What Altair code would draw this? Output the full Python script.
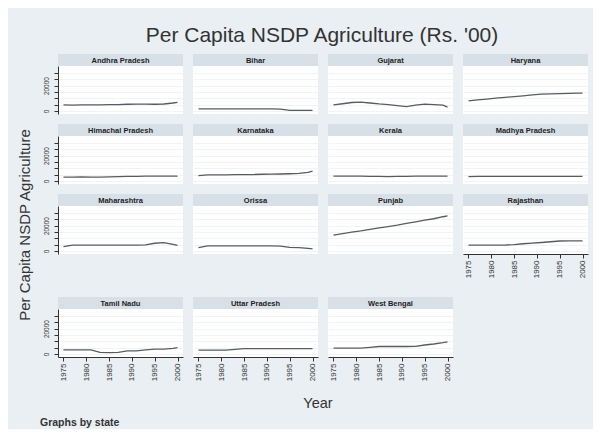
import altair as alt
import pandas as pd

# ---------------- data ----------------
years = [1975, 1977, 1979, 1981, 1983, 1985, 1987, 1989, 1991, 1993, 1995, 1997, 1999, 2000]

states = [
    "Andhra Pradesh", "Bihar", "Gujarat", "Haryana",
    "Himachal Pradesh", "Karnataka", "Kerala", "Madhya Pradesh",
    "Maharashtra", "Orissa", "Punjab", "Rajasthan",
    "Tamil Nadu", "Uttar Pradesh", "West Bengal",
]

andhra      = [4700, 4600, 4800, 4700, 4800, 4900, 5000, 5200, 5300, 5300, 5200, 5400, 6200, 6700]
bihar       = [1600, 1500, 1600, 1600, 1500, 1600, 1500, 1500, 1500, 1300, 400, 300, 300, 300]
gujarat     = [4700, 5600, 6600, 6900, 6200, 5500, 5000, 4200, 3400, 4500, 5300, 5000, 4500, 2900]
haryana     = [7900, 8700, 9300, 10000, 10600, 11300, 11900, 12600, 13200, 13500, 13700, 13900, 14000, 14000]
himachal    = [3000, 3000, 3100, 3000, 3000, 3100, 3300, 3500, 3600, 3700, 3700, 3800, 3800, 3800]
karnataka   = [4200, 4700, 4800, 4800, 4900, 4900, 5000, 5200, 5300, 5400, 5600, 5900, 6700, 7700]
kerala      = [3800, 3800, 3700, 3700, 3600, 3500, 3400, 3500, 3600, 3700, 3700, 3800, 3800, 3700]
mp          = [3400, 3500, 3500, 3500, 3500, 3600, 3500, 3500, 3600, 3600, 3500, 3600, 3600, 3500]
maharashtra = [3400, 4500, 4500, 4500, 4600, 4600, 4600, 4500, 4600, 4800, 6000, 6500, 5200, 4300]
orissa      = [2600, 4000, 4000, 4000, 4000, 4000, 4000, 4000, 4000, 3800, 2800, 2600, 2000, 1600]
punjab      = [12400, 13600, 14800, 15800, 17000, 18200, 19200, 20300, 21800, 23000, 24300, 25400, 27000, 27600]
rajasthan   = [4500, 4500, 4500, 4600, 4600, 5000, 5600, 6100, 6600, 7200, 7800, 7900, 7900, 7900]
tamilnadu   = [3200, 3200, 3200, 3200, 1100, 1000, 1100, 2400, 2400, 3200, 3700, 3700, 4300, 5000]
up          = [2900, 2900, 2900, 2900, 3500, 4100, 4200, 4200, 4200, 4200, 4200, 4200, 4200, 4200]
westbengal  = [4500, 4500, 4500, 4600, 5200, 5800, 5800, 5800, 5800, 5900, 7000, 7800, 8800, 9500]

series = [andhra, bihar, gujarat, haryana, himachal, karnataka, kerala, mp,
          maharashtra, orissa, punjab, rajasthan, tamilnadu, up, westbengal]

y_ticks = [0, 5000, 10000, 15000, 20000, 25000, 30000]
y_labelled = [0, 20000]
x_ticks = [1975, 1980, 1985, 1990, 1995, 2000]

title_text = "Per Capita NSDP Agriculture (Rs. '00)"
y_title = "Per Capita NSDP Agriculture"
x_title = "Year"
note = "Graphs by state"

# ---------------- styling ----------------
BG = "#e9eff2"
STRIP = "#d6e0e6"
LINE = "#565c61"
GRID = "#edf1f3"
AX = "#333333"
FONT = "Liberation Sans"
PW, PH, SH = 125, 48, 12

rows = []
for s, v in zip(states, series):
    for yr, val in zip(years, v):
        rows.append({"state": s, "year": yr, "value": val})
df = pd.DataFrame(rows)

xscale = alt.Scale(domain=[1973.8, 2001.2], nice=False, zero=False)
yscale = alt.Scale(domain=[-2500, 35500], nice=False, zero=False)

label_expr = " || ".join(f"datum.value == {v}" for v in y_labelled)


def panel(state, show_y, show_x):
    if show_y:
        yaxis = alt.Axis(values=y_ticks, grid=True, gridColor=GRID, gridWidth=0.8,
                         labelExpr=f"({label_expr}) ? datum.label : ''",
                         format="d", labelAngle=270, labelFontSize=6.5, labelFont=FONT,
                         labelColor=AX, tickSize=4, tickColor=AX, domainColor=AX,
                         labelPadding=5, title=None)
    else:
        yaxis = alt.Axis(values=y_ticks, grid=True, gridColor=GRID, gridWidth=0.8,
                         labels=False, ticks=False, domain=False, title=None)
    if show_x:
        xaxis = alt.Axis(values=x_ticks, format="d", labelAngle=270, labelFontSize=8,
                         labelFont=FONT, labelColor=AX, tickSize=4, tickColor=AX,
                         domainColor=AX, grid=False, title=None, labelPadding=2)
    else:
        xaxis = None
    plot = alt.Chart(df[df.state == state], view=alt.ViewBackground(fill="white", stroke=None)).mark_line(
        color=LINE, strokeWidth=1.3
    ).encode(
        x=alt.X("year:Q", scale=xscale, axis=xaxis),
        y=alt.Y("value:Q", scale=yscale, axis=yaxis),
    ).properties(width=PW, height=PH)

    sdata = alt.Data(values=[{"s": state}])
    strip_bg = alt.Chart(sdata).mark_rect(color=STRIP).encode(
        x=alt.value(0), x2=alt.value(PW), y=alt.value(0), y2=alt.value(SH))
    strip_tx = alt.Chart(sdata).mark_text(fontSize=7.5, fontWeight="bold", font=FONT,
                                          color="#222222", baseline="middle").encode(
        text="s:N", x=alt.value(PW / 2), y=alt.value(SH / 2 + 0.5))
    strip = alt.layer(strip_bg, strip_tx).properties(width=PW, height=SH)
    return alt.vconcat(strip, plot, spacing=0)


layout = [states[0:4], states[4:8], states[8:12], states[12:15]]
bottom_of_col = {"Tamil Nadu", "Uttar Pradesh", "West Bengal", "Rajasthan"}

row_charts = []
for r, names in enumerate(layout):
    panels = [panel(n, c == 0, n in bottom_of_col) for c, n in enumerate(names)]
    row_charts.append(alt.hconcat(*panels, spacing=10))
upper = alt.vconcat(*row_charts[:3], spacing=10)
grid = alt.vconcat(upper, row_charts[3], spacing=19)

ytitle = alt.Chart(alt.Data(values=[{"t": y_title}])).mark_text(
    angle=270, fontSize=15, font=FONT, color="#333333", baseline="middle"
).encode(text="t:N", x=alt.value(9), y=alt.value(171)).properties(width=18, height=330)

mid = alt.hconcat(ytitle, grid, spacing=9)

bdata = alt.Data(values=[{"t": x_title, "n": note}])
year_tx = alt.Chart(bdata).mark_text(fontSize=14.5, font=FONT, color="#333333",
                                     baseline="middle", align="center").encode(
    text="t:N", x=alt.value(302), y=alt.value(20))
note_tx = alt.Chart(bdata).mark_text(fontSize=10.5, font=FONT, fontWeight="bold",
                                     color="#333333", baseline="middle", align="left").encode(
    text="n:N", x=alt.value(24), y=alt.value(39))
bottom = alt.layer(year_tx, note_tx).properties(width=560, height=45)

chart = alt.vconcat(mid, bottom, spacing=0).properties(
    title=alt.TitleParams(title_text, fontSize=21, font=FONT, fontWeight="normal",
                          color="#333333", anchor="middle", offset=8, dx=20),
    background=BG,
    padding={"left": 8, "top": 17, "right": 5, "bottom": 0},
).configure_view(strokeWidth=0).configure_concat(spacing=0)

chart.save("out.html", embed_options={"renderer": "svg", "actions": False})
